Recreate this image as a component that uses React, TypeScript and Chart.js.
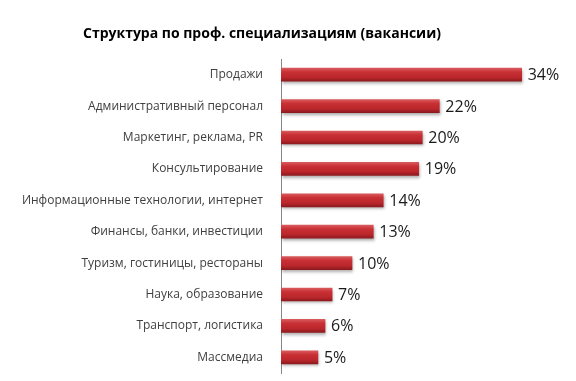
import React, { useEffect, useRef } from "react";
import { Chart, registerables } from "chart.js";

Chart.register(...registerables);

const categories = [
  "Продажи",
  "Административный персонал",
  "Маркетинг, реклама, PR",
  "Консультирование",
  "Информационные технологии, интернет",
  "Финансы, банки, инвестиции",
  "Туризм, гостиницы, рестораны",
  "Наука, образование",
  "Транспорт, логистика",
  "Массмедиа",
];
const values = [33.9, 22.3, 19.9, 19.4, 14.4, 13.0, 10.0, 7.2, 6.2, 5.2];
const valueLabels = ["34%", "22%", "20%", "19%", "14%", "13%", "10%", "7%", "6%", "5%"];
const titleText = "Структура по проф. специализациям (вакансии)";

export default function App() {
  const ref = useRef<HTMLCanvasElement | null>(null);

  useEffect(() => {
    document.body.style.margin = "0";
    const canvas = ref.current!;
    const titlePlugin = {
      id: "customTitle",
      afterDraw(chart: any) {
        const ctx = chart.ctx;
        ctx.save();
        ctx.font = "bold 14px 'Open Sans'";
        ctx.fillStyle = "#000000";
        ctx.textAlign = "center";
        ctx.textBaseline = "middle";
        ctx.fillText(titleText, 262, 34);
        ctx.restore();
      },
    };
    const valuePlugin = {
      id: "valueLabels",
      afterDatasetsDraw(chart: any) {
        const ctx = chart.ctx;
        const meta = chart.getDatasetMeta(0);
        ctx.save();
        ctx.font = "16px 'Open Sans'";
        ctx.fillStyle = "#1a1a1a";
        ctx.textAlign = "left";
        ctx.textBaseline = "middle";
        meta.data.forEach((bar: any, i: number) => {
          ctx.fillText(valueLabels[i], bar.x + 6, bar.y + 1);
        });
        ctx.restore();
      },
    };
    const shadowPlugin = {
      id: "barShadow",
      beforeDatasetsDraw(chart: any) {
        const ctx = chart.ctx;
        ctx.save();
        ctx.shadowColor = "rgba(0,0,0,0.35)";
        ctx.shadowBlur = 3;
        ctx.shadowOffsetX = 1;
        ctx.shadowOffsetY = 2;
      },
      afterDatasetsDraw(chart: any) {
        chart.ctx.restore();
      },
    };

    const chart = new Chart(canvas, {
      type: "bar",
      data: {
        labels: categories,
        datasets: [
          {
            data: values,
            barThickness: 13,
            borderWidth: 0,
            backgroundColor: (c: any) => {
              const chart = c.chart;
              const yScale = chart.scales && chart.scales.y;
              if (!chart.chartArea || !yScale || c.dataIndex === undefined) return "#c0282d";
              const yc = yScale.getPixelForValue(c.dataIndex);
              const g = chart.ctx.createLinearGradient(0, yc - 6.5, 0, yc + 6.5);
              g.addColorStop(0, "#d9595c");
              g.addColorStop(0.3, "#c83035");
              g.addColorStop(0.7, "#bb272c");
              g.addColorStop(1, "#8e1a1e");
              return g;
            },
          },
        ],
      },
      options: {
        indexAxis: "y",
        animation: false,
        responsive: false,
        maintainAspectRatio: false,
        layout: { padding: { top: 59, bottom: 8, left: 0, right: 11 } },
        plugins: {
          legend: { display: false },
          title: { display: false },
          tooltip: { enabled: false },
        },
        scales: {
          x: {
            display: false,
            min: 0,
            max: 40,
          },
          y: {
            grid: { display: false },
            border: { display: true, color: "#868686", width: 1 },
            ticks: {
              color: "#404040",
              font: { family: "'Open Sans'", size: 12 },
              padding: 10,
            },
            afterFit: (scale: any) => {
              scale.width = 281;
              scale.paddingTop = 0;
              scale.paddingBottom = 0;
            },
          },
        },
      },
      plugins: [shadowPlugin, valuePlugin, titlePlugin],
    } as any);
    return () => chart.destroy();
  }, []);

  return (
    <div style={{ width: 576, height: 381 }}>
      <canvas ref={ref} width={576} height={381} style={{ display: "block" }} />
    </div>
  );
}
